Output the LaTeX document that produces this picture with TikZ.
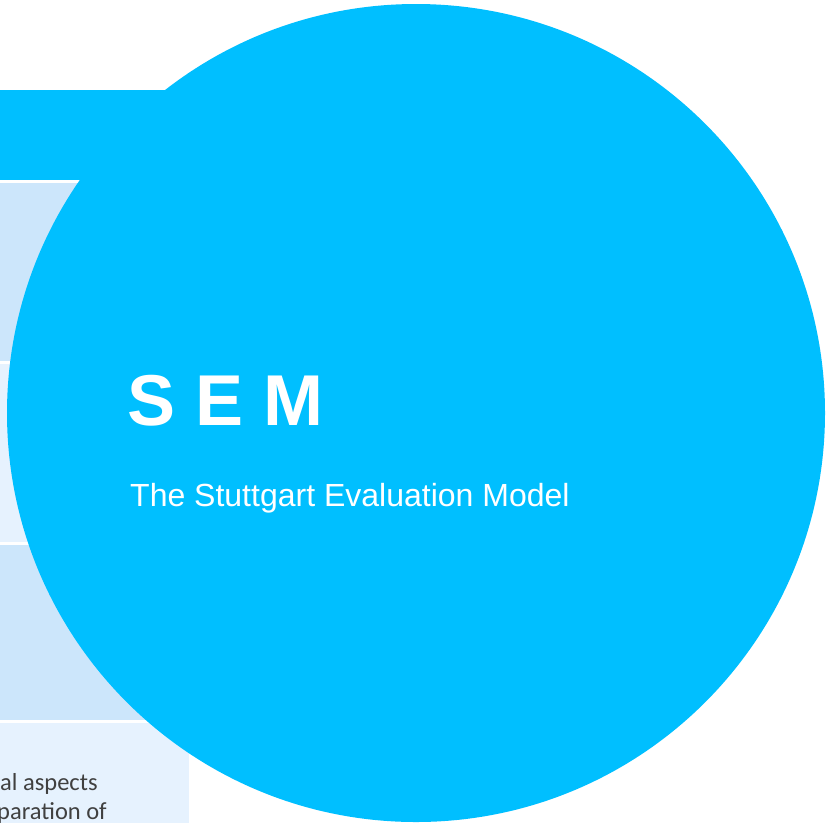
\documentclass[tikz,border=0pt]{standalone}
\usepackage{fontspec}
\setmainfont{Liberation Sans}
\newfontfamily\calib{Carlito}
\definecolor{skyb}{RGB}{0,191,255}
\definecolor{rowdark}{RGB}{204,230,251}
\definecolor{rowlight}{RGB}{230,242,254}
\definecolor{txtgray}{RGB}{64,64,64}
\tikzset{
  bodytext/.style={font=\calib\fontsize{24.5}{29}\selectfont, text=txtgray, anchor=base west, inner sep=0pt},
}
\begin{document}
\begin{tikzpicture}[x=1pt,y=-1pt]
\useasboundingbox (0,0) rectangle (826,823);
\clip (0,0) rectangle (826,823);
\fill[white] (0,0) rectangle (826,823);
% top bar
\fill[skyb] (0,90) rectangle (300,180);
% table rows
\fill[rowdark] (0,183) rectangle (189,361);
\fill[rowlight] (0,364) rectangle (189,542);
\fill[rowdark] (0,545) rectangle (189,720);
\fill[rowlight] (0,723) rectangle (189,823);
\node[bodytext] (t1) at (0,790) {al aspects};
\node[bodytext] (t2) at (-3,819) {paration of};
% circle
\fill[skyb] (416,413) circle[radius=409];
\node[anchor=base west, inner sep=0pt, text=white, font=\bfseries\fontsize{72}{80}\selectfont] (sem) at (127,425) {S E M};
\node[anchor=base west, inner sep=0pt, text=white, font=\fontsize{32}{36}\selectfont] (sub) at (130,506) {The Stuttgart Evaluation Model};
\end{tikzpicture}
\end{document}
